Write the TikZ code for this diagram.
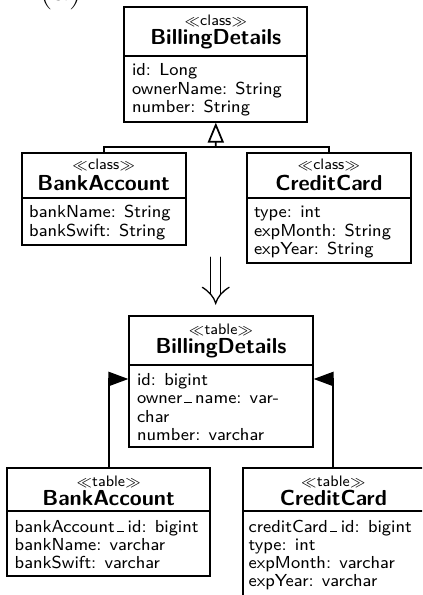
\documentclass[tikz,border=0pt]{standalone}
\usetikzlibrary{arrows.meta,fit}
\newcommand\usc{\kern0.12em\rule[0.02em]{0.42em}{0.5pt}\kern0.2em}
\newcommand\stt[1]{{\fontsize{6.2}{7}\selectfont$\ll$}#1{\fontsize{6.2}{7}\selectfont$\gg$}}
\begin{document}
\begin{tikzpicture}[x=0.4608pt,y=-0.4608pt,
  box/.style={draw, line width=0.85pt, inner sep=0pt},
  sepline/.style={line width=0.85pt},
  conn/.style={line width=0.8pt},
  dbl/.style={line width=0.6pt, line cap=round},
  attr/.style={anchor=base west, inner sep=0pt, font=\sffamily\fontsize{8}{9.6}\selectfont},
  ttl/.style={anchor=base, inner sep=0pt, font=\sffamily\bfseries\fontsize{10}{12}\selectfont},
  stereo/.style={anchor=base, inner sep=0pt, font=\sffamily\fontsize{7}{8}\selectfont},
  inh/.style={conn, -{Triangle[open, length=9.2pt, width=7.4pt]}},
  fk/.style={conn, -{Triangle[length=9.2pt, width=6.6pt]}},
  lbl/.style={anchor=base west, inner sep=0pt, font=\fontsize{17.28}{20}\selectfont}
]
\useasboundingbox (0,0) rectangle (422,595);
\clip (0,0) rectangle (422,595);

% label
\node[lbl] (label) at (39,0.6) {(a)};

% ---------- class diagram ----------
\node[box, fit={(124.3,6.7) (307.3,121.7)}] (cBD) {};
\draw[sepline] (124.3,55.7) -- (307.3,55.7);
\node[stereo] (cBDs) at (215.8,25.7) {\stt{class}};
\node[ttl] (cBDt) at (215.8,44.3) {BillingDetails};
\node[attr] (cBDa1) at (131.6,76) {id: Long};
\node[attr] (cBDa2) at (131.6,94.3) {ownerName: String};
\node[attr] (cBDa3) at (131.6,112.6) {number: String};

\node[box, fit={(21.7,152.7) (185.7,245)}] (cBA) {};
\draw[sepline] (21.7,197.7) -- (185.7,197.7);
\node[stereo] (cBAs) at (103.7,170) {\stt{class}};
\node[ttl] (cBAt) at (103.7,190.3) {BankAccount};
\node[attr] (cBAa1) at (28.8,217.7) {bankName: String};
\node[attr] (cBAa2) at (28.8,236) {bankSwift: String};

\node[box, fit={(246.7,152.7) (411,263.3)}] (cCC) {};
\draw[sepline] (246.7,198) -- (411,198);
\node[stereo] (cCCs) at (328.85,170) {\stt{class}};
\node[ttl] (cCCt) at (328.85,190.3) {CreditCard};
\node[attr] (cCCa1) at (253.6,217.7) {type: int};
\node[attr] (cCCa2) at (253.6,236) {expMonth: String};
\node[attr] (cCCa3) at (253.6,254.3) {expYear: String};

\coordinate (jn) at (215.8,146.7);
\draw[inh] (jn) -- (cBD.south);
\draw[conn] (cBA.north) |- (jn) -| (cCC.north);

% ---------- double arrow ----------
\draw[dbl] (210.7,257.3) -- (210.7,293.5);
\draw[dbl] (220.7,257.3) -- (220.7,293.5);
\draw[dbl] (202.3,287.3) .. controls (209,291.5) and (214,297) .. (215.7,303.3)
  .. controls (217.4,297) and (222.4,291.5) .. (229.1,287.3);

% ---------- table diagram ----------
\node[box, fit={(129.3,315.7) (312.7,446.7)}] (tBD) {};
\draw[sepline] (129.3,365) -- (312.7,365);
\node[stereo] (tBDs) at (221,334.7) {\stt{table}};
\node[ttl] (tBDt) at (221,353) {BillingDetails};
\node[attr] (tBDa1) at (136.6,385.3) {id: bigint};
\node[attr] (tBDa2) at (136.6,403.6) {owner\usc name: var-};
\node[attr] (tBDa3) at (136.6,422) {char};
\node[attr] (tBDa4) at (136.6,440.3) {number: varchar};

\node[box, fit={(7.3,467.7) (210,576)}] (tBA) {};
\draw[sepline] (7.3,511) -- (210,511);
\node[stereo] (tBAs) at (108.65,486.7) {\stt{table}};
\node[ttl] (tBAt) at (108.65,505.3) {BankAccount};
\node[attr] (tBAa1) at (14.3,532) {bankAccount\usc id: bigint};
\node[attr] (tBAa2) at (14.3,550.3) {bankName: varchar};
\node[attr] (tBAa3) at (14.3,568.6) {bankSwift: varchar};

\node[box, fit={(242.7,467.7) (424,597)}] (tCC) {};
\draw[sepline] (242.7,511) -- (424,511);
\node[stereo] (tCCs) at (333.35,486.7) {\stt{table}};
\node[ttl] (tCCt) at (333.35,505.3) {CreditCard};
\node[attr] (tCCa1) at (248.3,532) {creditCard\usc id: bigint};
\node[attr] (tCCa2) at (248.3,550.3) {type: int};
\node[attr] (tCCa3) at (248.3,568.6) {expMonth: varchar};
\node[attr] (tCCa4) at (248.3,586.9) {expYear: varchar};

\coordinate (tBDl) at (tBD.west |- 0,379);
\coordinate (tBDr) at (tBD.east |- 0,379);
\draw[fk] (tBA.north) |- (tBDl);
\draw[fk] (tCC.north) |- (tBDr);
\end{tikzpicture}
\end{document}
